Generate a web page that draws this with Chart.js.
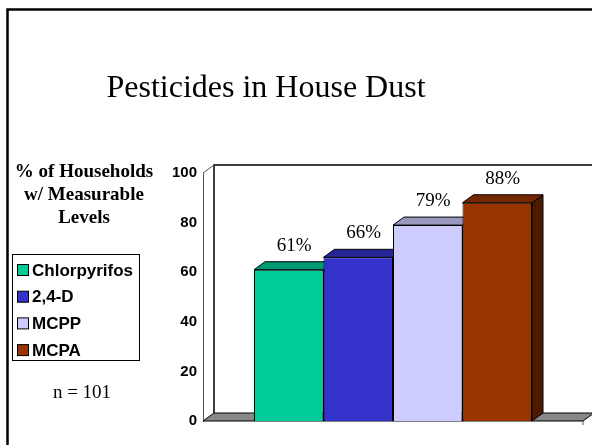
<!DOCTYPE html>
<html>
<head>
<meta charset="utf-8">
<script src="https://cdn.jsdelivr.net/npm/chart.js@4/dist/chart.umd.min.js"></script>
<style>
html,body{margin:0;padding:0;background:#fff;}
#wrap{position:relative;width:592px;height:445px;overflow:hidden;}
canvas{display:block;}
</style>
</head>
<body>
<div id="wrap"><canvas id="c" width="592" height="445"></canvas></div>
<script>
// ---- data ----
const categories = ['Chlorpyrifos', '2,4-D', 'MCPP', 'MCPA'];
const values = [61, 66, 79, 88];
const valueLabels = ['61%', '66%', '79%', '88%'];
const yTicks = [0, 20, 40, 60, 80, 100];
const chartTitle = 'Pesticides in House Dust';
const axisTitleLines = ['% of Households', 'w/ Measurable', 'Levels'];
const noteText = 'n = 101';

// ---- styles ----
const frontColors = ['#00CC99', '#3333CC', '#CCCCFF', '#993300'];
const topColors = ['#009973', '#262699', '#9999BF', '#732600'];
const sideColors = ['#006B50', '#1A1A73', '#8080A0', '#4D1A00'];
const DX = 11, DY = -8;

const threeD = {
  id: 'threeD',
  beforeDraw(chart) {
    const ctx = chart.ctx;
    ctx.save();
    ctx.fillStyle = '#fff';
    ctx.fillRect(0, 0, chart.width, chart.height);
    // slide border
    ctx.strokeStyle = '#000';
    ctx.lineWidth = 2.5;
    ctx.beginPath();
    ctx.moveTo(7.5, chart.height + 5);
    ctx.lineTo(7.5, 9.5);
    ctx.lineTo(chart.width + 5, 9.5);
    ctx.stroke();
    ctx.restore();
  },
  beforeDatasetsDraw(chart) {
    const ctx = chart.ctx;
    const a = chart.chartArea;
    ctx.save();
    // floor
    ctx.fillStyle = '#888888';
    ctx.strokeStyle = '#000';
    ctx.lineWidth = 1;
    ctx.beginPath();
    ctx.moveTo(a.left, a.bottom);
    ctx.lineTo(a.left + DX, a.bottom + DY);
    ctx.lineTo(a.right + DX, a.bottom + DY);
    ctx.lineTo(a.right, a.bottom);
    ctx.closePath();
    ctx.fill();
    ctx.stroke();
    // back wall lines
    ctx.lineWidth = 1.5;
    ctx.beginPath();
    ctx.moveTo(a.left + DX, a.bottom + DY);
    ctx.lineTo(a.left + DX, a.top + DY);
    ctx.lineTo(a.right + DX + 20, a.top + DY);
    ctx.stroke();
    ctx.lineWidth = 1;
    ctx.strokeStyle = '#555';
    ctx.beginPath();
    ctx.moveTo(a.left, a.top);
    ctx.lineTo(a.left + DX, a.top + DY);
    ctx.stroke();
    // small end tick
    ctx.beginPath();
    ctx.moveTo(a.right, a.bottom);
    ctx.lineTo(a.right, a.bottom + 4);
    ctx.stroke();
    // 3D faces of bars
    ctx.strokeStyle = '#000';
    ctx.lineWidth = 1;
    chart.data.datasets.forEach((ds, i) => {
      const meta = chart.getDatasetMeta(i);
      const bar = meta.data[0];
      const l = bar.x - bar.width / 2, r = bar.x + bar.width / 2;
      const t = bar.y, b = bar.base;
      // side
      ctx.fillStyle = sideColors[i];
      ctx.beginPath();
      ctx.moveTo(r, t);
      ctx.lineTo(r + DX, t + DY);
      ctx.lineTo(r + DX, b + DY);
      ctx.lineTo(r, b);
      ctx.closePath();
      ctx.fill();
      ctx.stroke();
      // top
      ctx.fillStyle = topColors[i];
      ctx.beginPath();
      ctx.moveTo(l, t);
      ctx.lineTo(l + DX, t + DY);
      ctx.lineTo(r + DX, t + DY);
      ctx.lineTo(r, t);
      ctx.closePath();
      ctx.fill();
      ctx.stroke();
    });
    ctx.restore();
  },
  afterDatasetsDraw(chart) {
    const ctx = chart.ctx;
    ctx.save();
    ctx.fillStyle = '#000';
    ctx.font = '19px "Liberation Serif", "Times New Roman", serif';
    ctx.textAlign = 'center';
    ctx.textBaseline = 'middle';
    chart.data.datasets.forEach((ds, i) => {
      const bar = chart.getDatasetMeta(i).data[0];
      ctx.fillText(valueLabels[i], bar.x + DX / 2, bar.y - 24);
    });
    ctx.restore();
  },
  afterDraw(chart) {
    const ctx = chart.ctx;
    ctx.save();
    ctx.fillStyle = '#000';
    // title
    ctx.font = '32px "Liberation Serif", "Times New Roman", serif';
    ctx.textAlign = 'center';
    ctx.textBaseline = 'alphabetic';
    ctx.fillText(chartTitle, 266, 97);
    // axis title
    ctx.font = 'bold 19px "Liberation Serif", "Times New Roman", serif';
    ctx.textBaseline = 'middle';
    axisTitleLines.forEach((s, k) => ctx.fillText(s, 84, 172 + k * 23));
    // note
    ctx.font = '19px "Liberation Serif", "Times New Roman", serif';
    ctx.fillText(noteText, 82, 393);
    // legend
    ctx.strokeStyle = '#000';
    ctx.lineWidth = 1;
    ctx.strokeRect(12.5, 254.5, 127, 106);
    ctx.textAlign = 'left';
    ctx.font = 'bold 17px "Liberation Sans", Arial, sans-serif';
    chart.data.datasets.forEach((ds, i) => {
      const cy = 270 + i * 26.7;
      ctx.fillStyle = ds.backgroundColor;
      ctx.fillRect(17.5, cy - 5.5, 11, 11);
      ctx.strokeRect(17.5, cy - 5.5, 11, 11);
      ctx.fillStyle = '#000';
      ctx.fillText(ds.label, 32, cy + 1);
    });
    ctx.restore();
  }
};

new Chart(document.getElementById('c'), {
  type: 'bar',
  data: {
    labels: [''],
    datasets: categories.map((c, i) => ({
      label: c,
      data: [values[i]],
      backgroundColor: frontColors[i],
      borderColor: '#000',
      borderWidth: 1,
      categoryPercentage: 0.7316,
      barPercentage: 1.0
    }))
  },
  options: {
    responsive: false,
    animation: false,
    devicePixelRatio: 1,
    layout: { padding: { left: 0, top: 173, right: 9, bottom: 24 } },
    plugins: { legend: { display: false }, title: { display: false }, tooltip: { enabled: false } },
    scales: {
      x: { display: false },
      y: {
        min: 0, max: 100,
        afterFit(scale) { scale.width = 203; },
        afterBuildTicks(scale) { scale.ticks = yTicks.map(v => ({ value: v })); },
        grid: { display: false, drawTicks: false },
        border: { display: true, color: '#555', width: 1 },
        ticks: {
          padding: 6,
          color: '#000',
          font: { family: '"Liberation Sans", Arial, sans-serif', size: 15, weight: 'bold' }
        }
      }
    }
  },
  plugins: [threeD]
});
</script>
</body>
</html>
